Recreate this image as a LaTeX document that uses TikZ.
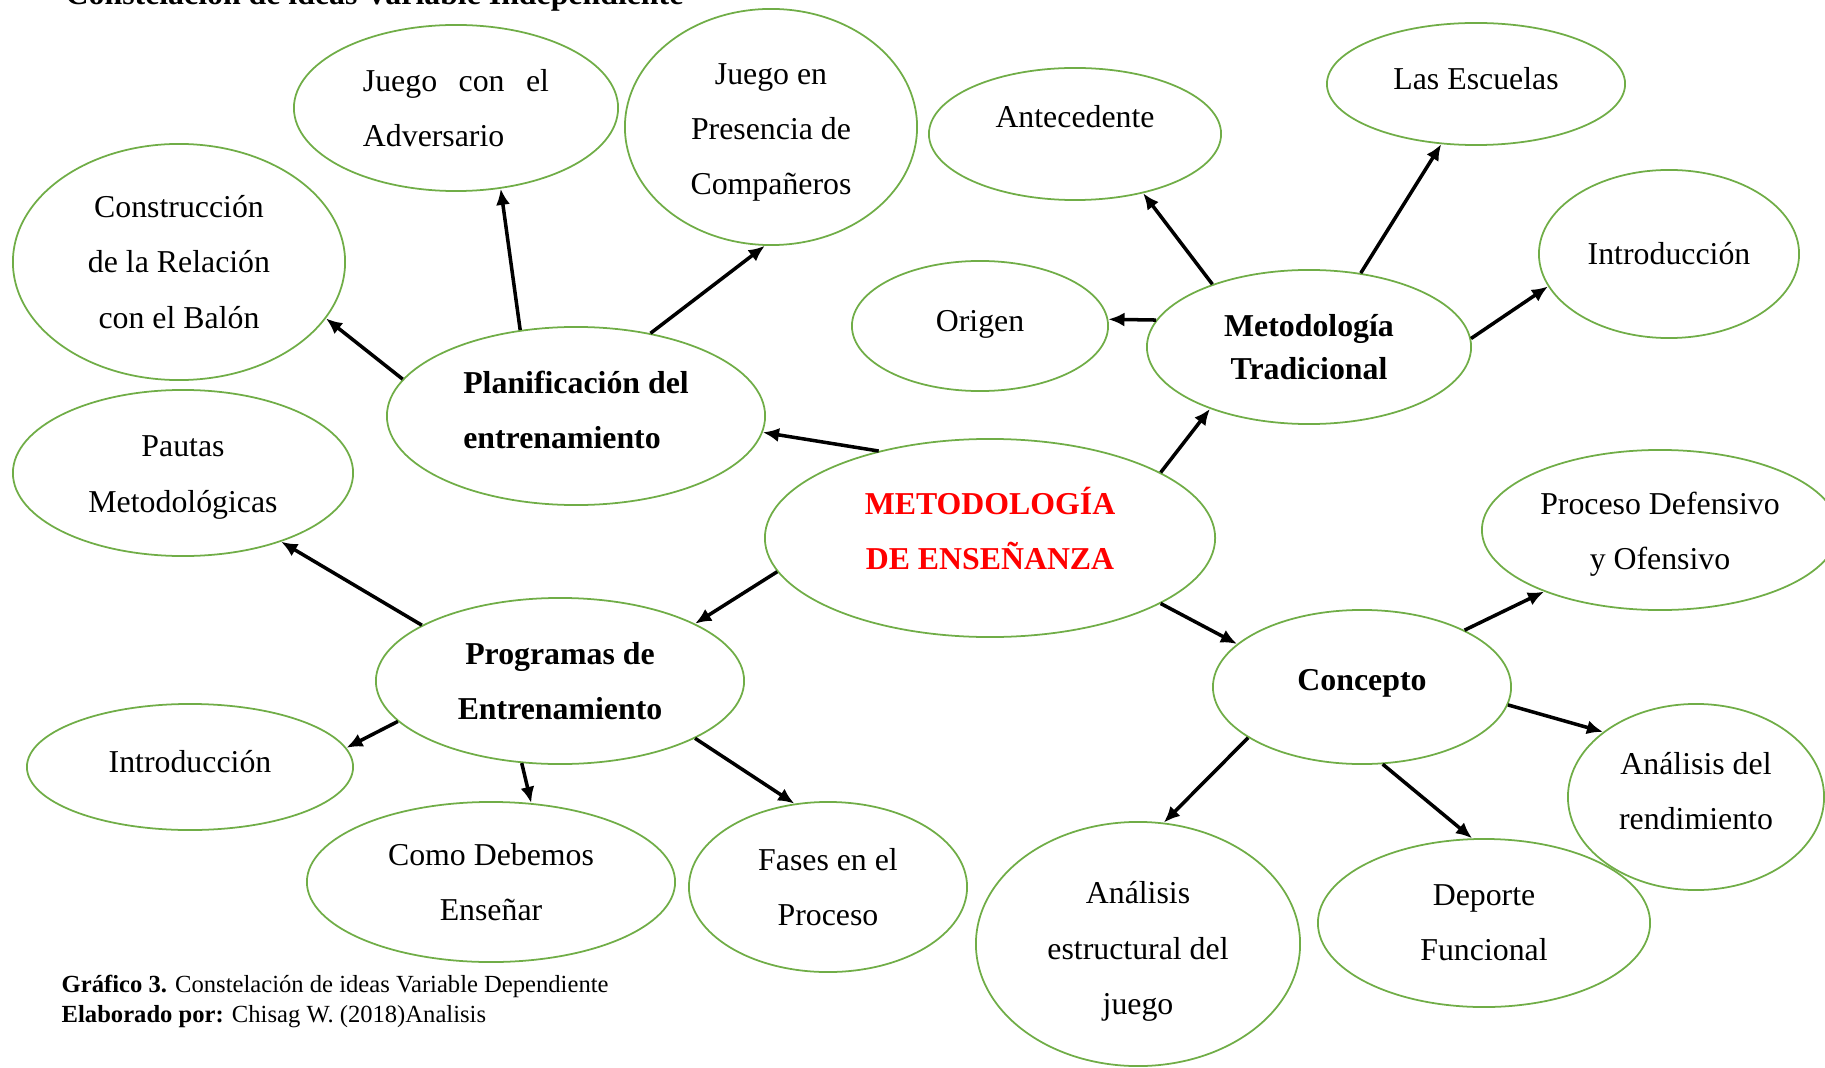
\documentclass[tikz,border=0pt]{standalone}
\usepackage{fontspec}
\setmainfont{Liberation Serif}
\usetikzlibrary{shapes.geometric,arrows.meta}
\definecolor{ideagreen}{HTML}{70AD47}

\begin{document}
\begin{tikzpicture}[x=0.01cm,y=-0.01cm,
  idea/.style={ellipse,draw=ideagreen,line width=0.5pt,inner sep=0pt,
    align=center,font=\fontsize{9.05}{15.7}\selectfont},
  ell/.style 2 args={minimum width=#1cm,minimum height=#2cm},
  link/.style={-{Latex[length=4.6pt,width=4pt]},line width=1pt}]
  \useasboundingbox (0,0) rectangle (1825,1067);

  % Heading, cut off at the top
  \node[anchor=base west,inner sep=0pt,font=\bfseries\fontsize{9.05}{15.6}\selectfont]
    (head) at (65,5) {Constelación de ideas Variable Independiente};

  % Centre
  \node[idea,ell={4.50}{1.98},font=\bfseries\fontsize{9.05}{15.7}\selectfont,text=red,
    text depth=5.3pt] (met) at (990,538) {METODOLOGÍA\\DE ENSEÑANZA};

  % Planificación del entrenamiento
  \node[idea,ell={3.78}{1.78},align=left,font=\bfseries\fontsize{9.05}{15.7}\selectfont,
    text depth=3.5pt] (plan) at (576,416) {Planificación del\\entrenamiento};
  \node[idea,ell={3.24}{1.66},align=left] (adv) at (456,108)
    {\makebox[1.86cm][s]{Juego con el}\\Adversario};
  \node[idea,ell={2.92}{2.36}] (pres) at (771,127)
    {\rule{0pt}{9pt}Juego en\\Presencia de\\Compañeros};
  \node[idea,ell={3.32}{2.36}] (cons) at (179,262) {Construcción\\de la Relación\\con el Balón};

  % Programas de Entrenamiento
  \node[idea,ell={3.68}{1.66},font=\bfseries\fontsize{9.05}{15.7}\selectfont]
    (prog) at (560,681) {Programas de\\Entrenamiento};
  \node[idea,ell={3.40}{1.66}] (paut) at (183,473)
    {\rule{0pt}{8.5pt}Pautas\\Metodológicas};
  \node[idea,ell={3.26}{1.26},text depth=3.4pt] (intl) at (190,767) {Introducción};
  \node[idea,ell={3.68}{1.60}] (como) at (491,882) {Como Debemos\\Enseñar};
  \node[idea,ell={2.78}{1.70}] (fases) at (828,887) {Fases en el\\Proceso};

  % Metodología Tradicional
  \node[idea,ell={3.24}{1.54},font=\bfseries\fontsize{9.05}{12.3}\selectfont]
    (trad) at (1309,347) {Metodología\\Tradicional};
  \node[idea,ell={2.92}{1.32}] (ante) at (1075,134) {Antecedente\\[-6pt]\mbox{}};
  \node[idea,ell={2.98}{1.22},text depth=3.4pt] (esc) at (1476,84) {Las Escuelas};
  \node[idea,ell={2.56}{1.30},text depth=2.8pt] (orig) at (980,326) {Origen};
  \node[idea,ell={2.60}{1.68}] (intr) at (1669,254) {Introducción};

  % Concepto
  \node[idea,ell={2.98}{1.54},font=\bfseries\fontsize{9.05}{15.7}\selectfont,
    text depth=4pt] (conc) at (1362,687) {Concepto};
  \node[idea,ell={3.56}{1.60}] (proc) at (1660,530)
    {\rule{0pt}{9pt}Proceso Defensivo\\y Ofensivo};
  \node[idea,ell={2.56}{1.86},text depth=3.4pt] (rend) at (1696,797)
    {Análisis del\\rendimiento};
  \node[idea,ell={3.24}{2.44}] (estr) at (1138,944)
    {\rule{0pt}{10.5pt}Análisis\\estructural del\\juego};
  \node[idea,ell={3.32}{1.68}] (dep) at (1484,923) {Deporte\\Funcional};

  % Arrows
  \draw[link] (met.142) -- (plan.-5);
  \draw[link] (met.21) -- (trad.212);
  \draw[link] (met.189) -- (prog.23);
  \draw[link] (met.-21) -- (conc.161);

  \draw[link] (plan.123) -- (adv.-61);
  \draw[link] (plan.48) -- (pres.-93);
  \draw[link] (plan.168) -- (cons.-21);

  \draw[link] (prog.158) -- (paut.-35);
  \draw[link] (prog.194) -- (intl.7);
  \draw[link] (prog.245) -- (como.63);
  \draw[link] (prog.-23) -- (fases.112);

  \draw[link] (trad.147) -- (ante.-41);
  \draw[link] (trad.55) -- (esc.240);
  \draw[link] (trad.170) -- (orig.3);
  \draw[link] (trad.3) -- (intr.195);

  \draw[link] (conc.29) -- (proc.208);
  \draw[link] (conc.-7) -- (rend.145);
  \draw[link] (conc.204) -- (estr.78);
  \draw[link] (conc.-75) -- (dep.98);

  % Caption
  \node[anchor=base west,inner sep=0pt,font=\fontsize{7}{8}\selectfont]
    (capa) at (61,992) {\textbf{Gráfico 3.} Constelación de ideas Variable Dependiente};
  \node[anchor=base west,inner sep=0pt,font=\fontsize{7}{8}\selectfont]
    (capb) at (61,1022) {\textbf{Elaborado por:} Chisag W. (2018)Analisis};
\end{tikzpicture}
\end{document}
